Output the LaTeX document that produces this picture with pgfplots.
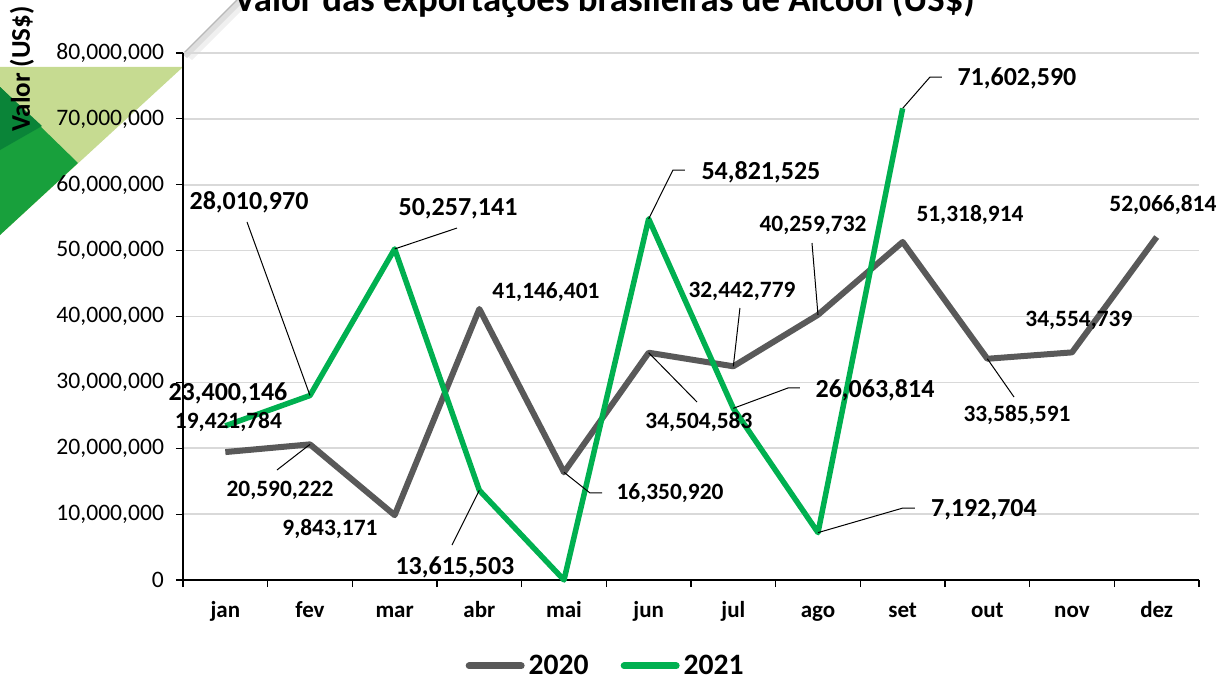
\documentclass[border=0pt]{standalone}
\usepackage{fontspec}
\setmainfont{Carlito}
\usepackage{pgfplots}
\pgfplotsset{compat=1.18}

\definecolor{serie20}{HTML}{595959}
\definecolor{serie21}{HTML}{00B050}
\definecolor{grade}{HTML}{D9D9D9}
\definecolor{verdeclaro}{RGB}{198,219,145}
\definecolor{verde}{RGB}{24,160,60}
\definecolor{verdeesc}{RGB}{10,132,56}

% rotulos de dados: 2021 maiores, 2020 menores
\newcommand{\rotA}[3]{\node[font=\fontsize{13}{15}\selectfont\bfseries] at (axis cs:#1,#2) {#3};}
\newcommand{\rotB}[3]{\node[font=\fontsize{11.7}{14}\selectfont\bfseries] at (axis cs:#1,#2) {#3};}

\begin{document}
\begin{tikzpicture}
\useasboundingbox (0,0) rectangle (610.5pt,341pt);

% canto decorativo (coordenadas em pixels da imagem)
\begin{scope}[x=0.5pt,y=-0.5pt,yshift=341pt]
  \fill[verdeclaro] (0,67) -- (183,67) -- (0,235) -- cycle;
  \fill[verde] (0,87) -- (78,163) -- (0,235) -- cycle;
  \fill[verdeesc] (0,87) -- (42,126) -- (0,150) -- cycle;
  \fill[black!6] (183,53) -- (236,0) -- (252,0) -- (192,60) -- cycle;
  \fill[black!13] (183,55) -- (237,0) -- (245,0) -- (187,58) -- cycle;
  \draw[line width=0.6pt, black!28] (183,54) -- (237,0);
\end{scope}

\begin{axis}[
  at={(91.5pt,51pt)}, anchor=south west,
  scale only axis, width=508pt, height=263.5pt,
  xmin=-0.5, xmax=11.5, ymin=0, ymax=80000000,
  axis x line*=bottom, axis y line*=left,
  axis line style={-, black, line width=0.6pt},
  xtick={-0.5,0.5,...,11.5},
  x tick label as interval,
  xticklabels={jan,fev,mar,abr,mai,jun,jul,ago,set,out,nov,dez},
  ytick={0,10000000,20000000,30000000,40000000,50000000,60000000,70000000,80000000},
  scaled y ticks=false,
  tick align=outside, major tick length=3.5pt,
  tick style={black, line width=0.6pt},
  ymajorgrids, grid style={grade, line width=0.8pt},
  yticklabel style={font=\fontsize{11.8}{14}\selectfont, xshift=-2.5pt,
    /pgf/number format/.cd, fixed, precision=0, 1000 sep={,}, assume math mode=true},
  xticklabel style={font=\fontsize{11.5}{13}\selectfont\bfseries,
    text height=1.6ex, text depth=0.4ex, yshift=-4pt},
  clip=false,
  legend style={at={(0.417,-0.163)}, anchor=center, draw=none, fill=none,
    legend columns=2, font=\fontsize{14.8}{17}\selectfont\bfseries,
    inner sep=1pt,
    /tikz/every even column/.append style={column sep=14pt}},
  legend image code/.code={\draw[#1, line width=3.5pt, line cap=round] (0pt,0pt) -- (26pt,0pt);},
]
\addplot[serie20, line width=3pt, line join=round, mark=none] coordinates {
  (0,19421784) (1,20590222) (2,9843171) (3,41146401) (4,16350920) (5,34504583)
  (6,32442779) (7,40259732) (8,51318914) (9,33585591) (10,34554739) (11,52066814)
};
\addplot[serie21, line width=2.75pt, line join=round, mark=none] coordinates {
  (0,23400146) (1,28010970) (2,50257141) (3,13615503) (4,0) (5,54821525)
  (6,26063814) (7,7192704) (8,71602590)
};
\legend{2020,2021}

% linhas de chamada
\draw[black, line width=0.5pt] (axis cs:0.256,54350000) -- (axis cs:1,28010970);
\draw[black, line width=0.5pt] (axis cs:2.736,53430000) -- (axis cs:2,50257141);
\draw[black, line width=0.5pt] (axis cs:2.677,5310000) -- (axis cs:3,13615503);
\draw[black, line width=0.5pt] (axis cs:5.429,62240000) -- (axis cs:5.287,62240000) -- (axis cs:5,54821525);
\draw[black, line width=0.5pt] (axis cs:6.787,29150000) -- (axis cs:6.645,29150000) -- (axis cs:6,26063814);
\draw[black, line width=0.5pt] (axis cs:8.145,10930000) -- (axis cs:8.004,10930000) -- (axis cs:7,7192704);
\draw[black, line width=0.5pt] (axis cs:8.464,76360000) -- (axis cs:8.323,76360000) -- (axis cs:8,71602590);
\draw[black, line width=0.5pt] (axis cs:0.610,16700000) -- (axis cs:1,20590222);
\draw[black, line width=0.5pt] (axis cs:4.449,13210000) -- (axis cs:4.307,13210000) -- (axis cs:4,16350920);
\draw[black, line width=0.5pt] (axis cs:5.571,27020000) -- (axis cs:5,34504583);
\draw[black, line width=0.5pt] (axis cs:6.078,41290000) -- (axis cs:6,32442779);
\draw[black, line width=0.5pt] (axis cs:6.929,51160000) -- (axis cs:7,40259732);
\draw[black, line width=0.5pt] (axis cs:9.315,27780000) -- (axis cs:9,33585591);

% rotulos 2021
\rotA{0.031}{28390000}{23,400,146}
\rotA{0.280}{57380000}{28,010,970}
\rotA{2.748}{56320000}{50,257,141}
\rotA{2.712}{1970000}{13,615,503}
\rotA{6.326}{61940000}{54,821,525}
\rotA{7.673}{28840000}{26,063,814}
\rotA{8.960}{10630000}{7,192,704}
\rotA{9.350}{76200000}{71,602,590}
% rotulos 2020
\rotB{0.037}{23980000}{19,421,784}
\rotB{0.646}{13660000}{20,590,222}
\rotB{1.236}{7740000}{9,843,171}
\rotB{3.787}{43720000}{41,146,401}
\rotB{5.252}{13210000}{16,350,920}
\rotB{5.594}{23980000}{34,504,583}
\rotB{6.102}{43870000}{32,442,779}
\rotB{6.941}{53890000}{40,259,732}
\rotB{8.795}{55410000}{51,318,914}
\rotB{9.350}{25050000}{33,585,591}
\rotB{10.082}{39470000}{34,554,739}
\rotB{11.074}{56930000}{52,066,814}
\end{axis}

\node[anchor=base, font=\fontsize{18.4}{22}\selectfont\bfseries] at (302.25pt,335pt)
  {Valor das exportações brasileiras de Álcool (US\$)};
\node[rotate=90, font=\fontsize{13.5}{16}\selectfont\bfseries] at (11pt,306.5pt) {Valor (US\$)};
\end{tikzpicture}
\end{document}
